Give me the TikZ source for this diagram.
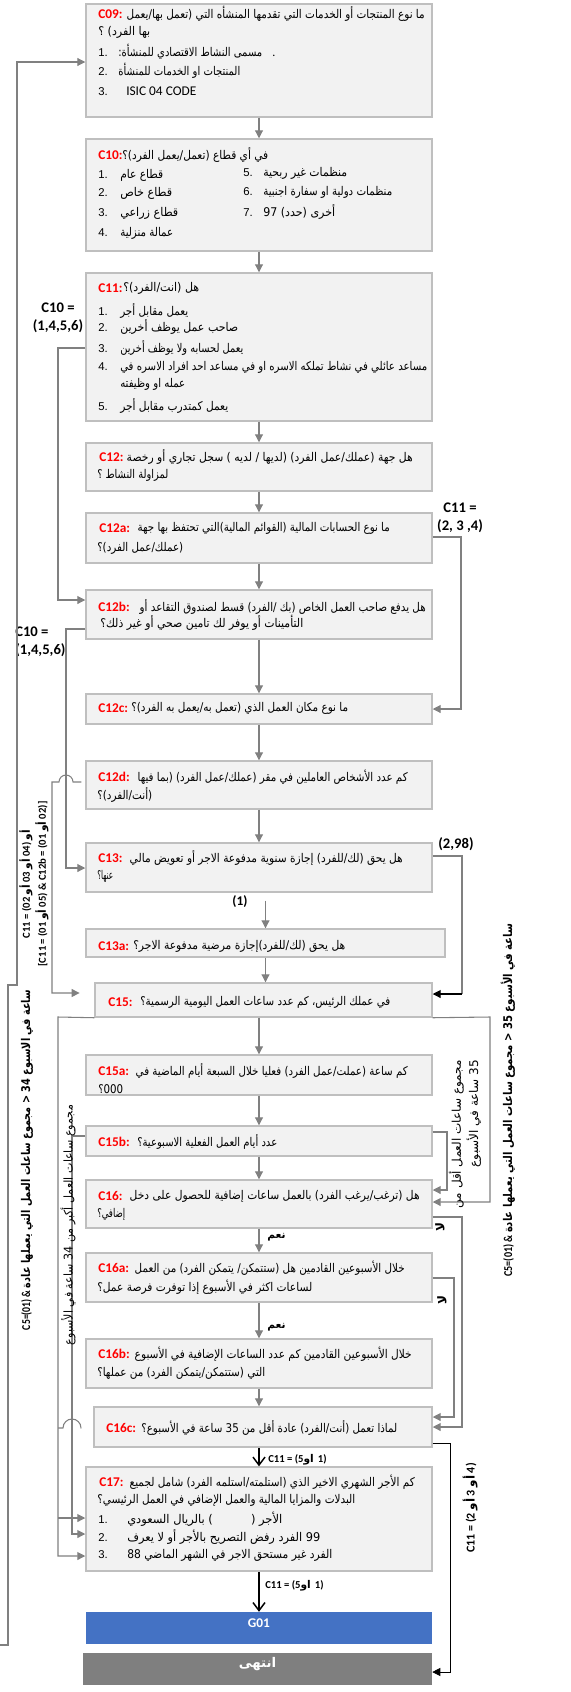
\documentclass[tikz,border=0pt]{standalone}
\usepackage{fontspec}
\usepackage{graphicx}
\setmainfont{Carlito}
\newfontfamily\arabicfont[Script=Arabic]{DejaVu Sans}
\newfontfamily\numfont{Liberation Sans}
\usetikzlibrary{arrows.meta,fit}
\TeXXeTstate=1

\definecolor{boxfill}{HTML}{F2F2F2}
\definecolor{boxline}{HTML}{BFBFBF}
\definecolor{arrgray}{HTML}{808080}
\definecolor{qred}{HTML}{FF0000}
\definecolor{g01blue}{HTML}{4472C4}
\definecolor{endgray}{HTML}{7F7F7F}

\newdimen\px \px=0.75pt
\newcommand{\arw}[2]{\resizebox{#1\px}{\height}{\arabicfont #2}}
\newcommand{\itm}[2]{\makebox[#1\px][l]{\numfont\fontsize{8.5}{10}\selectfont #2}}

\begin{document}
\begin{tikzpicture}[
  x=0.75pt, y=-0.75pt,
  qbox/.style={draw=boxline, fill=boxfill, line width=1.1pt, inner sep=0pt},
  qtx/.style={inner sep=0pt, anchor=west, font=\fontsize{9}{10}\selectfont},
  qlab/.style={inner sep=0pt, anchor=west, text=qred, font=\fontsize{10}{12}\selectfont\bfseries},
  side/.style={inner sep=0pt, align=center, font=\fontsize{11}{13.5}\selectfont\bfseries},
  rlab/.style={inner sep=0pt, rotate=90, font=\fontsize{9}{13}\selectfont\bfseries},
  small/.style={inner sep=0pt, anchor=west, font=\fontsize{8}{10}\selectfont\bfseries},
  arr/.style={draw=arrgray, line width=0.8pt, -{Triangle[length=6pt,width=6pt]}},
  line/.style={draw=arrgray, line width=0.8pt},
  barr/.style={black, line width=1.1pt, -{Straight Barb[length=6pt,width=9pt]}},
]
\useasboundingbox (0,0) rectangle (571,1692);

% question boxes
\node[qbox, fit={(86,4) (432,117)}] (c09) {};
\node[qbox, fit={(86,139) (432,251)}] (c10) {};
\node[qbox, fit={(86,273) (432,421)}] (c11) {};
\node[qbox, fit={(86,443) (432,491)}] (c12) {};
\node[qbox, fit={(86,513) (432,563)}] (c12a) {};
\node[qbox, fit={(86,590) (432,639)}] (c12b) {};
\node[qbox, fit={(86,694) (432,724)}] (c12c) {};
\node[qbox, fit={(86,761) (432,809)}] (c12d) {};
\node[qbox, fit={(86,843) (432,892)}] (c13) {};
\node[qbox, fit={(86,929) (445,957)}] (c13a) {};
\node[qbox, fit={(95,983) (432,1017)}] (c15) {};
\node[qbox, fit={(86,1055) (432,1095)}] (c15a) {};
\node[qbox, fit={(86,1126) (432,1156)}] (c15b) {};
\node[qbox, fit={(86,1180) (432,1228)}] (c16) {};
\node[qbox, fit={(86,1253) (432,1302)}] (c16a) {};
\node[qbox, fit={(86,1339) (432,1388)}] (c16b) {};
\node[qbox, fit={(94,1407) (432,1447)}] (c16c) {};
\node[qbox, fit={(86,1467) (432,1571)}] (c17) {};
\node[fill=g01blue, inner sep=0pt, fit={(86,1612) (432,1644)}, text=white,
      font=\fontsize{10}{12}\selectfont\bfseries] (g01) {G01};
\node[fill=endgray, inner sep=0pt, fit={(83,1653) (432,1685)}, text=white,
      font=\fontsize{10}{12}\selectfont\bfseries] (fin) {\arabicfont\beginR انتهى\endR};

% C09
\node[qlab] (c09k) at (98,14) {C09:};
\node[qtx, anchor=east] (c09t1) at (425,14) {\arw{298}{\beginR ما نوع المنتجات أو الخدمات التي تقدمها المنشأه التي (تعمل بها/يعمل\endR}};
\node[qtx] (c09t2) at (98,32) {\arw{52}{\beginR بها الفرد) ؟\endR}};
\node[qtx] (c09i1) at (98,52) {\itm{20}{1.}\arw{144}{\beginR مسمى النشاط الاقتصادي للمنشأة:\endR}\hspace*{10\px}.};
\node[qtx] (c09i2) at (98,71) {\itm{20}{2.}\arw{122}{\beginR المنتجات او الخدمات للمنشأة\endR}};
\node[qtx] (c09i3) at (98,91) {\itm{28}{3.}\fontsize{10}{12}\selectfont ISIC 04 CODE};

% C10
\node[qlab] (c10k) at (98,155) {C10:};
\node[qtx] (c10t1) at (122,155) {\arw{146}{\beginR في أي قطاع (تعمل/يعمل الفرد)؟\endR}};
\node[qtx] (c10i1) at (98,175) {\itm{22}{1.}\arw{43}{\beginR قطاع عام\endR}};
\node[qtx] (c10i2) at (98,193) {\itm{22}{2.}\arw{52}{\beginR قطاع خاص\endR}};
\node[qtx] (c10i3) at (98,213) {\itm{22}{3.}\arw{58}{\beginR قطاع زراعي\endR}};
\node[qtx] (c10i4) at (98,233) {\itm{22}{4.}\arw{53}{\beginR عمالة منزلية\endR}};
\node[qtx] (c10i5) at (243,173) {\itm{20}{5.}\arw{84}{\beginR منظمات غير ربحية\endR}};
\node[qtx] (c10i6) at (243,192) {\itm{20}{6.}\arw{129}{\beginR منظمات دولية او سفارة اجنبية\endR}};
\node[qtx] (c10i7) at (243,212) {\itm{20}{7.}\arw{72}{\beginR أخرى (حدد) 97\endR}};

% C11
\node[qlab] (c11k) at (98,288) {C11:};
\node[qtx] (c11t1) at (123,288) {\arw{76}{\beginR هل (انت/الفرد)؟\endR}};
\node[qtx] (c11i1) at (98,311) {\itm{22}{1.}\arw{68}{\beginR يعمل مقابل أجر\endR}};
\node[qtx] (c11i2) at (98,327) {\itm{22}{2.}\arw{118}{\beginR صاحب عمل يوظف أخرين\endR}};
\node[qtx] (c11i3) at (98,348) {\itm{22}{3.}\arw{123}{\beginR يعمل لحسابه ولا يوظف أخرين\endR}};
\node[qtx] (c11i4) at (98,367) {\itm{22}{4.}\arw{307}{\beginR مساعد عائلي في نشاط تملكه الاسره او في مساعد احد افراد الاسره في\endR}};
\node[qtx] (c11i4b) at (120,384) {\arw{65}{\beginR عمله او وظيفته\endR}};
\node[qtx] (c11i5) at (98,406) {\itm{22}{5.}\arw{108}{\beginR يعمل كمتدرب مقابل أجر\endR}};

% C12 .. C12d
\node[qlab] (c12k) at (99,457) {C12:};
\node[qtx, anchor=east] (c12t1) at (413,457) {\arw{286}{\beginR هل جهة (عملك/عمل الفرد) (لديها / لديه ) سجل تجاري أو رخصة\endR}};
\node[qtx] (c12t2) at (97,475) {\arw{71}{\beginR لمزاولة النشاط ؟\endR}};

\node[qlab] (c12ak) at (99,528) {C12a:};
\node[qtx, anchor=east] (c12at1) at (390,528) {\arw{252}{\beginR ما نوع الحسابات المالية (القوائم المالية)التي تحتفظ بها جهة\endR}};
\node[qtx] (c12at2) at (97,548) {\arw{86}{\beginR (عملك/عمل الفرد)؟\endR}};

\node[qlab] (c12bk) at (98,607) {C12b:};
\node[qtx, anchor=east] (c12bt1) at (426,607) {\arw{286}{\beginR هل يدفع صاحب العمل الخاص (بك /الفرد) قسط لصندوق التقاعد أو\endR}};
\node[qtx] (c12bt2) at (100,623) {\arw{203}{\beginR التأمينات أو يوفر لك تامين صحي أو غير ذلك؟\endR}};

\node[qlab] (c12ck) at (98,708) {C12c:};
\node[qtx] (c12ct1) at (131,708) {\arw{217}{\beginR ما نوع مكان العمل الذي (تعمل به/يعمل به الفرد)؟\endR}};

\node[qlab] (c12dk) at (98,777) {C12d:};
\node[qtx, anchor=east] (c12dt1) at (408,777) {\arw{270}{\beginR كم عدد الأشخاص العاملين في مقر (عملك/عمل الفرد) (بما فيها\endR}};
\node[qtx] (c12dt2) at (97,795) {\arw{55}{\beginR (أنت/الفرد)؟\endR}};

% C13, C13a
\node[qlab] (c13k) at (98,858) {C13:};
\node[qtx, anchor=east] (c13t1) at (403,858) {\arw{273}{\beginR هل يحق (لك/للفرد) إجازة سنوية مدفوعة الاجر أو تعويض مالي\endR}};
\node[qtx] (c13t2) at (97,876) {\arw{16}{\beginR عنها؟\endR}};

\node[qlab] (c13ak) at (98,946) {C13a:};
\node[qtx] (c13at1) at (133,946) {\arw{212}{\beginR هل يحق (لك/للفرد)إجازة مرضية مدفوعة الاجر؟\endR}};

% C15 .. C15b
\node[qlab] (c15k) at (108,1002) {C15:};
\node[qtx] (c15t1) at (140,1002) {\arw{250}{\beginR في عملك الرئيس، كم عدد ساعات العمل اليومية الرسمية؟\endR}};

\node[qlab] (c15ak) at (98,1071) {C15a:};
\node[qtx, anchor=east] (c15at1) at (408,1071) {\arw{272}{\beginR كم ساعة (عملت/عمل الفرد) فعليا خلال السبعة أيام الماضية في\endR}};
\node[qtx] (c15at2) at (98,1089) {\arw{25}{\beginR 000؟\endR}};

\node[qlab] (c15bk) at (98,1142) {C15b:};
\node[qtx] (c15bt1) at (137,1142) {\arw{140}{\beginR عدد أيام العمل الفعلية الاسبوعية؟\endR}};

% C16 .. C16c
\node[qlab] (c16k) at (98,1196) {C16:};
\node[qtx, anchor=east] (c16t1) at (420,1196) {\arw{290}{\beginR هل (ترغب/يرغب الفرد) بالعمل ساعات إضافية للحصول على دخل\endR}};
\node[qtx] (c16t2) at (97,1214) {\arw{28}{\beginR إضافي؟\endR}};

\node[qlab] (c16ak) at (98,1268) {C16a:};
\node[qtx, anchor=east] (c16at1) at (405,1268) {\arw{270}{\beginR خلال الأسبوعين القادمين هل (ستتمكن/ يتمكن الفرد) من العمل\endR}};
\node[qtx] (c16at2) at (97,1287) {\arw{215}{\beginR لساعات اكثر في الأسبوع إذا توفرت فرصة عمل؟\endR}};

\node[qlab] (c16bk) at (98,1354) {C16b:};
\node[qtx, anchor=east] (c16bt1) at (412,1354) {\arw{277}{\beginR خلال الأسبوعين القادمين كم عدد الساعات الإضافية في الأسبوع\endR}};
\node[qtx] (c16bt2) at (97,1373) {\arw{168}{\beginR التي (ستتمكن/يتمكن الفرد) من عملها؟\endR}};

\node[qlab] (c16ck) at (106,1428) {C16c:};
\node[qtx] (c16ct1) at (141,1428) {\arw{256}{\beginR لماذا تعمل (أنت/الفرد) عادة أقل من 35 ساعة في الأسبوع؟\endR}};

% C17
\node[qlab] (c17k) at (99,1482) {C17:};
\node[qtx, anchor=east] (c17t1) at (415,1482) {\arw{285}{\beginR كم الأجر الشهري الاخير الذي (استلمته/استلمه الفرد) شامل لجميع\endR}};
\node[qtx] (c17t2) at (97,1500) {\arw{258}{\beginR البدلات والمزايا المالية والعمل الإضافي في العمل الرئيسي؟\endR}};
\node[qtx] (c17i1) at (98,1519) {\itm{29}{1.}\arw{155}{\beginR الأجر (\hspace{40\px}) بالريال السعودي\endR}};
\node[qtx] (c17i2) at (98,1537) {\itm{29}{2.}\arw{193}{\beginR 99 الفرد رفض التصريح بالأجر أو لا يعرف\endR}};
\node[qtx] (c17i3) at (98,1555) {\itm{29}{3.}\arw{205}{\beginR الفرد غير مستحق الاجر في الشهر الماضي 88\endR}};

% main column
\foreach \a/\b in {c09/c10, c10/c11, c11/c12, c12/c12a, c12a/c12b, c12b/c12c,
                   c12c/c12d, c12d/c13, c15a/c15b, c15b/c16, c16/c16a, c16a/c16b}
  \draw[arr] (\a) -- (\b);
\draw[arr, shorten <=6pt] (c13a.north |- c13.south) -- (c13a.north);
\draw[arr] (c13a.south) -- (c13a.south |- c15.north);
\draw[arr] (c15a.north |- c15.south) -- (c15a.north);
\draw[arr] (c16b.south) -- (c16b.south |- c16c.north);
\draw[barr] (c17.north |- c16c.south) -- (c17.north);
\draw[barr] (c17.south) -- (g01.north);

\node[side, font=\fontsize{10}{12}\selectfont\bfseries] (one) at (240,902) {(1)};
\node[small] (yes1) at (267,1237) {\arabicfont\beginR نعم\endR};
\node[small] (yes2) at (267,1327) {\arabicfont\beginR نعم\endR};
\node[small] (g1) at (268,1460) {C11 = (5{\arabicfont\beginR او\endR}\hspace{4\px}1)};
\node[small] (g2) at (265,1586) {C11 = (5{\arabicfont\beginR او\endR}\hspace{4\px}1)};

% left side
\draw[arr] (c11.west |- 0,348) -- (58,348) -- (58,600) -- (c12b.west |- 0,600);
\node[side] (s10a) at (58,318) {C10 =\\(1,4,5,6)};
\draw[arr] (c12b.west |- 0,629) -- (66,629) -- (66,868) -- (c13.west |- 0,868);
\node[side, align=left, anchor=west] (s10b) at (15,642) {C10 =\\(1,4,5,6)};
\draw[arr, shorten <=3pt, shorten >=11pt] (c12d.west |- 0,782) -- (73,782)
  arc[start angle=0, end angle=-180, radius=7] -- (52,782) -- (52,993) -- (c15.west |- 0,993);
\node[rlab, align=center, font=\fontsize{8}{12}\selectfont\bfseries] (s11a) at (34,884)
  {C11 = (02 {\arabicfont\beginR أو\endR} 03 {\arabicfont\beginR أو\endR} 04) {\arabicfont\beginR أو\endR}\\{}[C11 = (01 {\arabicfont\beginR أو\endR} 05) \& C12b = (01 {\arabicfont\beginR أو\endR} 02)]};
\draw[arr] (c15.south west) -- (58,1017) -- (58,1556) -- (c17.west |- 0,1556);
\draw[arr] (58,1518) -- (c17.west |- 0,1518);
\draw[arr] (c15b.west |- 0,1136) -- (72,1136) -- (72,1534) -- (c17.west |- 0,1534);
\draw[line, shorten <=9pt] (c16c.west |- 0,1428) -- (81,1428)
  arc[start angle=0, end angle=-180, radius=9] -- (58,1428);
\node[rlab, font=\fontsize{9}{12}\selectfont] (s34a) at (68,1225)
  {\arw{240}{\beginR مجموع ساعات العمل أكبر من 34 ساعة في الأسبوع\endR}};
\draw[arr] (0,1645) -- (8,1645) -- (8,985) -- (17,985) -- (17,62) -- (c09.west |- 0,62);
\node[rlab] (s34b) at (27,1160)
  {\resizebox{340\px}{\height}{C5=(01) \& {\arabicfont\beginR ساعة في الاسبوع 34 < مجموع ساعات العمل التي يعملها عادة\endR}}};

% right side
\draw[arr] (c12a.east |- 0,537) -- (461,537) -- (461,709) -- (c12c.east |- 0,709);
\node[side] (s11b) at (460,518) {C11 =\\(2, 3 ,4)};
\draw[line] (c13.east |- 0,856) -- (462,856) -- (462,994);
\draw[black, -{Triangle[length=6pt,width=6pt]}, line width=0.8pt] (462,994) -- (c15.east |- 0,994);
\node[side] (s298) at (456,844) {(2,98)};
\draw[arr] (c15.south east) -- (490,1017) -- (490,1202) -- (c16.east |- 0,1202);
\node[rlab] (s35a) at (508,1100)
  {\resizebox{353\px}{\height}{C5=(01) \& {\arabicfont\beginR ساعة في الأسبوع 35 < مجموع ساعات العمل التي يعملها عادة\endR}}};
\draw[arr] (c15b.east |- 0,1132) -- (447,1132) -- (447,1190) -- (c16.east |- 0,1190);
\node[rlab, anchor=east, align=right, font=\fontsize{9}{13}\selectfont] (s35b) at (465,1060)
  {{\arabicfont\beginR مجموع ساعات العمل أقل من\endR}\\{\arabicfont\beginR 35 ساعة في الأسبوع\endR}};
\draw[arr] (c16.east |- 0,1217) -- (462,1217) -- (462,1427) -- (c16c.east |- 0,1427);
\node[rlab] (no1) at (440,1227) {\arabicfont\beginR لا\endR};
\draw[arr] (c16a.east |- 0,1278) -- (454,1278) -- (454,1417) -- (c16c.east |- 0,1417);
\node[rlab] (no2) at (442,1300) {\arabicfont\beginR لا\endR};
\draw[black, line width=0.6pt, -{Triangle[length=6pt,width=6pt]}]
  (c16c.east |- 0,1443) -- (450,1443) -- (450,1672) -- (fin.east |- 0,1672);
\node[rlab] (s11c) at (470,1508) {C11 = (2 {\arabicfont\beginR أو\endR} 3 {\arabicfont\beginR أو\endR} 4)};
\end{tikzpicture}
\end{document}
